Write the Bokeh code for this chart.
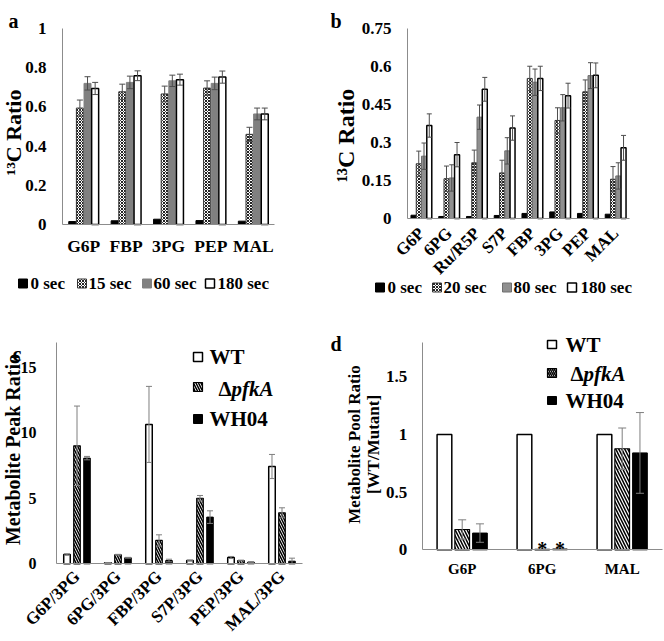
import math
from bokeh.plotting import figure
from bokeh.models import (ColumnDataSource, Range1d, FixedTicker, Label,
                          BoxAnnotation, CustomJSTickFormatter)
from bokeh.transform import dodge
from bokeh.layouts import column, row
from bokeh.embed import file_html
from bokeh.resources import INLINE
from bokeh.core.properties import value

FONT = "Liberation Serif"

# ---------------- data: panel a ----------------
a_categories = ["G6P", "FBP", "3PG", "PEP", "MAL"]
a_labels = ["0 sec", "15 sec", "60 sec", "180 sec"]
a_0s = [0.015, 0.019, 0.027, 0.020, 0.017]
a_15s = [0.594, 0.677, 0.666, 0.696, 0.460]
a_15s_err = [0.041, 0.039, 0.040, 0.037, 0.036]
a_60s = [0.720, 0.725, 0.733, 0.720, 0.564]
a_60s_err = [0.034, 0.032, 0.029, 0.032, 0.030]
a_180s = [0.694, 0.759, 0.739, 0.752, 0.564]
a_180s_err = [0.031, 0.025, 0.028, 0.031, 0.030]
a_ticks = [0, 0.2, 0.4, 0.6, 0.8, 1]
a_title = "\u00b9\u00b3C Ratio"

# ---------------- data: panel b ----------------
b_categories = ["G6P", "6PG", "Ru/R5P", "S7P", "FBP", "3PG", "PEP", "MAL"]
b_labels = ["0 sec", "20 sec", "80 sec", "180 sec"]
b_0s = [0.013, 0.008, 0.008, 0.012, 0.020, 0.026, 0.020, 0.017]
b_20s = [0.216, 0.157, 0.220, 0.180, 0.553, 0.387, 0.500, 0.155]
b_20s_err = [0.050, 0.050, 0.050, 0.050, 0.048, 0.050, 0.047, 0.050]
b_80s = [0.246, 0.160, 0.400, 0.267, 0.538, 0.437, 0.564, 0.168]
b_80s_err = [0.052, 0.052, 0.048, 0.052, 0.052, 0.052, 0.051, 0.052]
b_180s = [0.367, 0.252, 0.510, 0.357, 0.553, 0.485, 0.565, 0.279]
b_180s_err = [0.046, 0.048, 0.047, 0.048, 0.048, 0.049, 0.049, 0.049]
b_ticks = [0, 0.15, 0.3, 0.45, 0.6, 0.75]
b_title = "\u00b9\u00b3C Ratio"

# ---------------- data: panel c ----------------
c_categories = ["G6P/3PG", "6PG/3PG", "FBP/3PG", "S7P/3PG", "PEP/3PG", "MAL/3PG"]
c_wt = [0.71, 0.08, 10.63, 0.25, 0.48, 7.42]
c_wt_err = [0.05, 0.02, 2.90, 0.03, 0.08, 0.92]
c_pfka = [9.00, 0.69, 1.78, 5.00, 0.25, 3.89]
c_pfka_err = [3.03, 0.03, 0.43, 0.21, 0.03, 0.38]
c_wh04 = [8.06, 0.46, 0.25, 3.56, 0.13, 0.20]
c_wh04_err = [0.13, 0.03, 0.10, 0.48, 0.02, 0.23]
c_ticks = [0, 5, 10, 15]
c_title = "Metabolite Peak Ratio"

# ---------------- data: panel d ----------------
d_categories = ["G6P", "6PG", "MAL"]
d_wt = [1.0, 1.0, 1.0]
d_wt_err = [0.0, 0.0, 0.0]
d_pfka = [0.176, 0.004, 0.876]
d_pfka_err = [0.084, 0.0, 0.180]
d_wh04 = [0.145, 0.007, 0.840]
d_wh04_err = [0.080, 0.0, 0.350]
d_pfka_mark = ["", "*", ""]
d_wh04_mark = ["", "*", ""]
d_ticks = [0, 0.5, 1, 1.5]
d_title = ["Metabolite Pool Ratio", "[WT/Mutant]"]

strain_labels = ["WT", "\u0394", "pfkA", "WH04"]


def make_fig(cats, W, H, px_left, px_right, py_zero, py_top, ymax, yticks):
    """Frame covers the whole figure; axes are fixed inside it."""
    n = len(cats)
    ux = (px_right - px_left) / n          # pixels per category
    x0 = -0.5 - px_left / ux
    x1 = x0 + W / ux
    uy = (py_zero - py_top) / ymax         # pixels per y unit
    y1 = py_zero / uy
    y0 = -(H - py_zero) / uy
    p = figure(x_range=Range1d(x0, x1), y_range=Range1d(y0, y1),
               width=W, height=H, output_backend="svg", toolbar_location=None,
               min_border=0)
    p.min_border_left = p.min_border_right = 0
    p.min_border_top = p.min_border_bottom = 0
    p.xgrid.visible = False
    p.ygrid.visible = False
    p.outline_line_color = None
    p.background_fill_color = "white"
    p.border_fill_color = "white"
    xa, ya = p.xaxis[0], p.yaxis[0]
    xa.fixed_location = 0
    xa.bounds = (-0.5, n - 0.5)
    xa.ticker = FixedTicker(ticks=list(range(n)))
    xa.major_label_overrides = {i: c for i, c in enumerate(cats)}
    ya.fixed_location = -0.5
    ya.bounds = (0, ymax)
    ya.ticker = FixedTicker(ticks=yticks)
    ya.formatter = CustomJSTickFormatter(code="return String(tick)")
    for ax in (xa, ya):
        ax.axis_line_color = "#8c8c8c"
        ax.axis_line_width = 1
        ax.major_tick_line_color = None
        ax.minor_tick_line_color = None
        ax.major_label_text_font = FONT
        ax.major_label_text_font_style = "bold"
        ax.major_label_text_color = "black"
    return p


def grouped(p, cats, series, bar_w, err_color, cap):
    idx_all = list(range(len(cats)))
    for vals, errs, off, style in series:
        src = ColumnDataSource(dict(i=idx_all, v=vals))
        p.vbar(x=dodge("i", off), top="v", width=bar_w, source=src, **style)
    for vals, errs, off, style in series:
        if errs is None:
            continue
        idx = [i for i, e in enumerate(errs) if e > 0]
        if not idx:
            continue
        esrc = ColumnDataSource(dict(
            i=idx,
            lo=[max(vals[i] - errs[i], 0) for i in idx],
            hi=[vals[i] + errs[i] for i in idx]))
        xs = dodge("i", off)
        p.segment(x0=xs, y0="lo", x1=xs, y1="hi", source=esrc,
                  line_color=err_color, line_width=1)
        p.scatter(x=xs, y="hi", marker="dash", size=cap, source=esrc,
                  line_color=err_color, line_width=1)
        p.scatter(x=xs, y="lo", marker="dash", size=cap, source=esrc,
                  line_color=err_color, line_width=1)


class Canvas:
    """figure pixel coords (y down) -> screen units (frame == figure)"""
    def __init__(self, p, H):
        self.p, self.H = p, H

    def text(self, x, y, t, size, style="bold", baseline="middle", align="left",
             angle=0.0):
        self.p.add_layout(Label(x=x, y=self.H - y, x_units="screen",
                                y_units="screen", text=t, text_font=FONT,
                                text_font_size=f"{size}px", text_font_style=style,
                                text_align=align, text_baseline=baseline,
                                text_color="black", angle=angle))

    def vtitle(self, x, y, t, size):
        self.text(x, y, t, size, align="center", baseline="middle", angle=math.pi / 2)

    def swatch(self, x0, y0, x1, y1, style):
        kw = dict(fill_color=style.get("fill_color", "white"), fill_alpha=1.0,
                  line_color=style.get("line_color", "black"),
                  line_width=style.get("line_width", 1), line_alpha=1.0)
        if "hatch_pattern" in style:
            kw.update(hatch_pattern=style["hatch_pattern"],
                      hatch_color=style.get("hatch_color", "black"),
                      hatch_scale=style.get("hatch_scale", 4),
                      hatch_weight=style.get("hatch_weight", 1))
        self.p.add_layout(BoxAnnotation(
            left=x0, right=x1, top=self.H - y0, bottom=self.H - y1,
            left_units="screen", right_units="screen", top_units="screen",
            bottom_units="screen", level="overlay", **kw))


# styles
S_BLACK = dict(fill_color="black", line_color="black")
S_XHATCH = dict(fill_color="white", line_color="#333333", hatch_pattern="x",
                hatch_color="#222222", hatch_scale=3, hatch_weight=1)
S_GRAY_A = dict(fill_color="#808080", line_color="#808080")
S_GRAY_B = dict(fill_color="#8f8f8f", line_color="#6e6e6e")
S_WHITE = dict(fill_color="white", line_color="black", line_width=1.5)
S_DIAG = dict(fill_color="white", line_color="black", line_width=1.2,
              hatch_pattern="\\", hatch_color="black", hatch_scale=5, hatch_weight=1.5)

# ---------------- panel a ----------------
WA, HA = 330, 320
pa = make_fig(a_categories, WA, HA, 62, 274, 224, 28, 1.0, a_ticks)
grouped(pa, a_categories, [
    (a_0s, None, -0.27, S_BLACK),
    (a_15s, a_15s_err, -0.09, S_XHATCH),
    (a_60s, a_60s_err, 0.09, S_GRAY_A),
    (a_180s, a_180s_err, 0.27, S_WHITE),
], 0.165, "#4d4d4d", 6)
pa.yaxis.major_label_text_font_size = "17px"
pa.yaxis.major_label_standoff = 10
pa.xaxis.major_label_text_font_size = "17.5px"
pa.xaxis.major_label_standoff = 5
ca = Canvas(pa, HA)
ca.vtitle(13, 132, a_title, 22)
ca.text(8, 20, "a", 20, baseline="alphabetic")
for sx, tx, lab, st in zip([18, 77, 142, 205], [30, 88, 153, 217], a_labels,
                           [S_BLACK, S_XHATCH, S_GRAY_A, S_WHITE]):
    ca.swatch(sx, 278.5, sx + 9, 287.5, st)
    ca.text(tx, 283, lab, 17)

# ---------------- panel b ----------------
WB, HB = 334, 320
pb = make_fig(b_categories, WB, HB, 77, 299, 218, 28, 0.75, b_ticks)
grouped(pb, b_categories, [
    (b_0s, None, -0.285, S_BLACK),
    (b_20s, b_20s_err, -0.095, S_XHATCH),
    (b_80s, b_80s_err, 0.095, S_GRAY_B),
    (b_180s, b_180s_err, 0.285, S_WHITE),
], 0.18, "#4d4d4d", 5)
pb.yaxis.major_label_text_font_size = "17px"
pb.yaxis.major_label_standoff = 10
pb.xaxis.major_label_text_font_size = "17px"
pb.xaxis.major_label_orientation = math.pi / 4
pb.xaxis.major_label_standoff = 6
cb = Canvas(pb, HB)
cb.vtitle(15, 135, b_title, 24)
cb.text(0, 20, "b", 20, baseline="alphabetic")
for sx, tx, lab, st in zip([45, 102, 172, 237], [57, 113, 183, 250], b_labels,
                           [S_BLACK, S_XHATCH, S_GRAY_B, S_WHITE]):
    cb.swatch(sx, 282.5, sx + 9, 291.5, st)
    cb.text(tx, 287, lab, 17)

# ---------------- panel c ----------------
WC, HC = 330, 321
pc = make_fig(c_categories, WC, HC, 56, 302, 243.3, 21.7, 16.9, c_ticks)
grouped(pc, c_categories, [
    (c_wt, c_wt_err, -0.244, S_WHITE),
    (c_pfka, c_pfka_err, 0.0, S_DIAG),
    (c_wh04, c_wh04_err, 0.244, S_BLACK),
], 0.16, "#7f7f7f", 6)
pc.yaxis.major_label_text_font_size = "16px"
pc.yaxis.major_label_standoff = 14
pc.xaxis.major_label_text_font_size = "17px"
pc.xaxis.major_label_orientation = math.pi / 4
pc.xaxis.major_label_standoff = 4
cc = Canvas(pc, HC)
cc.vtitle(12.5, 129, c_title, 20)
cc.text(12, 33, "c", 20, baseline="alphabetic")
for (y0, y1), st in zip([(32, 41), (62, 71), (94, 103)], [S_WHITE, S_DIAG, S_BLACK]):
    cc.swatch(193, y0, 202, y1, st)
cc.text(209, 36, strain_labels[0], 21)
cc.text(218, 68, strain_labels[1], 21)
cc.text(231, 68, strain_labels[2], 21, style="bold italic")
cc.text(209, 98, strain_labels[3], 21)

# ---------------- panel d ----------------
WD, HD = 334, 321
pd = make_fig(d_categories, WD, HD, 91.7, 331.7, 229.3, 21.7, 1.8, d_ticks)
grouped(pd, d_categories, [
    (d_wt, d_wt_err, -0.222, S_WHITE),
    (d_pfka, d_pfka_err, 0.0, dict(S_DIAG, hatch_scale=6)),
    (d_wh04, d_wh04_err, 0.222, S_BLACK),
], 0.184, "#7f7f7f", 8)
for vals, marks, off in [(d_pfka, d_pfka_mark, 0.0), (d_wh04, d_wh04_mark, 0.222)]:
    idx = [i for i, m in enumerate(marks) if m]
    msrc = ColumnDataSource(dict(i=idx, v=[vals[i] for i in idx],
                                 m=[marks[i] for i in idx]))
    pd.text(x=dodge("i", off), y="v", text="m", source=msrc,
            text_font=value(FONT), text_font_size=value("20px"),
            text_font_style="bold", text_align="center",
            text_baseline="alphabetic", text_color="black")
pd.yaxis.major_label_text_font_size = "17px"
pd.yaxis.major_label_standoff = 9
pd.xaxis.major_label_text_font_size = "15px"
pd.xaxis.major_label_standoff = 5
cd = Canvas(pd, HD)
cd.vtitle(24, 124, d_title[0], 17)
cd.vtitle(43, 124, d_title[1], 17)
cd.text(0, 23, "d", 20, baseline="alphabetic")
for (y0, y1), st in zip([(20, 28), (48, 57), (76, 84)],
                        [S_WHITE, dict(S_DIAG, hatch_scale=4), S_BLACK]):
    cd.swatch(217, y0, 226, y1, st)
cd.text(235, 24, strain_labels[0], 21)
cd.text(240, 53, strain_labels[1], 21)
cd.text(253, 53, strain_labels[2], 21, style="bold italic")
cd.text(235, 80, strain_labels[3], 21)

layout = column(row(pa, pb), row(pc, pd))
open("out.html", "w").write(file_html(layout, INLINE))
